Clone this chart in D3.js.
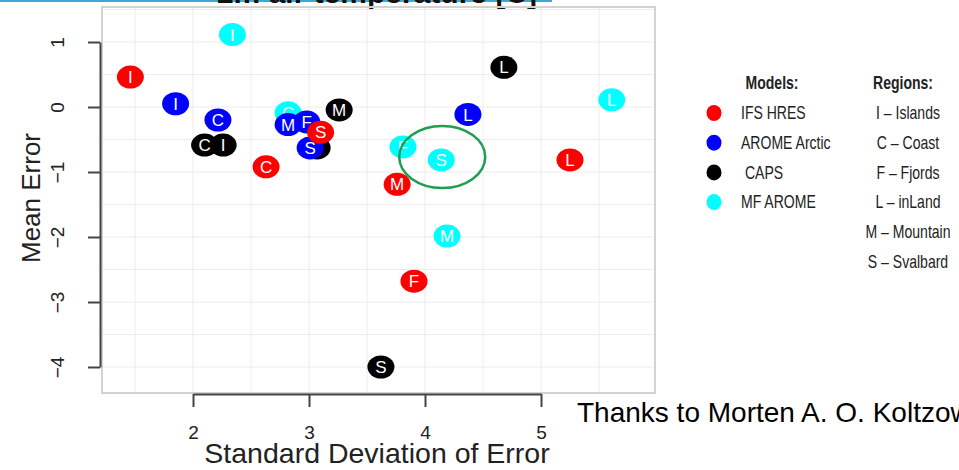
<!DOCTYPE html>
<html>
<head>
<meta charset="utf-8">
<script src="https://cdn.jsdelivr.net/npm/d3@7"></script>
<style>
  html, body { margin: 0; padding: 0; background: #fff; }
  svg { display: block; font-family: "Liberation Sans", Arial, Helvetica, sans-serif; }
</style>
</head>
<body>
<script>
// values, region order: I C F L M S
var models = ["IFS HRES", "AROME Arctic", "CAPS", "MF AROME"];
var modelColors = ["#ff0000", "#0000ff", "#000000", "#00ffff"];
var legendLabels = ["IFS HRES", "AROME Arctic", " CAPS", "MF AROME"];
var regionCodes = ["I", "C", "F", "L", "M", "S"];
var regionNames = ["Islands", "Coast", "Fjords", "inLand", "Mountain", "Svalbard"];

var sdIfs = [1.46, 2.63, 3.905, 5.25, 3.76, 3.10];
var meIfs = [0.46, -0.92, -2.68, -0.815, -1.19, -0.39];
var sdArome = [1.85, 2.215, 2.98, 4.37, 2.82, 3.01];
var meArome = [0.05, -0.20, -0.23, -0.115, -0.27, -0.63];
var sdCaps = [2.26, 2.10, 3.07, 4.68, 3.26, 3.62];
var meCaps = [-0.585, -0.585, -0.63, 0.61, -0.046, -4.0];
var sdMf = [2.34, 2.82, 3.81, 5.61, 4.19, 4.14];
var meMf = [1.115, -0.09, -0.615, 0.11, -1.985, -0.815];

var xTicks = [2, 3, 4, 5];
var yTicks = [-4, -3, -2, -1, 0, 1];
var gridStep = 0.5;

var title = "2m air temperature [C]";
var xTitle = "Standard Deviation of Error";
var yTitle = "Mean Error";
var credit = "Thanks to Morten A. O. Koltzow";
var highlight = { model: 3, region: 5 };  // circled point

function buildPoints() {
    var sds = [sdIfs, sdArome, sdCaps, sdMf];
    var mes = [meIfs, meArome, meCaps, meMf];
    var pts = [];
    [3, 2, 1, 0].forEach(function(m) {  // drawing order, red ends on top
        regionCodes.forEach(function(code, r) {
            pts.push({ model: m, region: r, code: code, sd: sds[m][r], me: mes[m][r] }); }); });
    return pts; }

function show() {
    var W = 959, H = 470;
    var panel = { left: 102, right: 655, top: 7, bottom: 393 };

    var svg = d3.select("body").append("svg")
        .attr("width", W)
        .attr("height", H);

    var x = d3.scaleLinear().domain([2, 5]).range([193, 541]);
    var y = d3.scaleLinear().domain([-4, 1]).range([367, 42]);

    // slide header strip + clipped title
    svg.append("rect")
        .attr("x", 0).attr("y", 0)
        .attr("width", 552).attr("height", 2)
        .attr("fill", "#3aa8d8");
    svg.append("text")
        .attr("x", 377).attr("y", 3)
        .attr("text-anchor", "middle")
        .attr("font-size", 30)
        .attr("font-weight", "bold")
        .attr("fill", "#111")
        .text(title);

    // grid
    var grid = svg.append("g").attr("class", "grid");
    var gx = d3.range(Math.ceil(x.invert(panel.left) / gridStep) * gridStep, x.invert(panel.right), gridStep);
    var gy = d3.range(Math.ceil(y.invert(panel.bottom) / gridStep) * gridStep, y.invert(panel.top), gridStep);
    grid.selectAll("line.v").data(gx).enter().append("line")
        .attr("class", "v")
        .attr("x1", function(d) { return x(d); })
        .attr("x2", function(d) { return x(d); })
        .attr("y1", panel.top).attr("y2", panel.bottom)
        .attr("stroke", "#ececec").attr("stroke-width", 1);
    grid.selectAll("line.h").data(gy).enter().append("line")
        .attr("class", "h")
        .attr("y1", function(d) { return y(d); })
        .attr("y2", function(d) { return y(d); })
        .attr("x1", panel.left).attr("x2", panel.right)
        .attr("stroke", "#ececec").attr("stroke-width", 1);

    svg.append("rect")
        .attr("x", panel.left).attr("y", panel.top)
        .attr("width", panel.right - panel.left)
        .attr("height", panel.bottom - panel.top)
        .attr("fill", "none")
        .attr("stroke", "#d2d2d2")
        .attr("stroke-width", 2);

    // axes
    var fmt = d3.format("d");
    var xAxis = svg.append("g")
        .attr("transform", "translate(0," + (panel.bottom + 1) + ")")
        .call(d3.axisBottom(x).tickValues(xTicks).tickSize(13).tickSizeOuter(0).tickPadding(19).tickFormat(fmt));
    var yAxis = svg.append("g")
        .attr("transform", "translate(100,0)")
        .call(d3.axisLeft(y).tickValues(yTicks).tickSize(12).tickSizeOuter(0).tickFormat(fmt));
    [xAxis, yAxis].forEach(function(a) {
        a.select(".domain").attr("stroke", "#444").attr("stroke-width", 2);
        a.selectAll(".tick line").attr("stroke", "#444").attr("stroke-width", 2);
        a.selectAll("text")
            .attr("font-size", 19)
            .attr("font-family", "Liberation Sans, Arial, sans-serif")
            .attr("fill", "#222"); });
    yAxis.selectAll(".tick text")
        .attr("x", null).attr("dy", null)
        .attr("text-anchor", "middle")
        .attr("transform", "translate(-36,0) rotate(-90)");

    svg.append("text")
        .attr("x", 377).attr("y", 463)
        .attr("text-anchor", "middle")
        .attr("font-size", 28.5)
        .attr("fill", "#222")
        .text(xTitle);
    svg.append("text")
        .attr("transform", "translate(40,198) rotate(-90)")
        .attr("text-anchor", "middle")
        .attr("font-size", 26)
        .attr("fill", "#222")
        .text(yTitle);

    // markers
    var pts = buildPoints();
    var mk = svg.append("g").selectAll("g.pt").data(pts).enter().append("g")
        .attr("class", "pt")
        .attr("transform", function(d) { return "translate(" + x(d.sd) + "," + y(d.me) + ")"; });
    mk.append("ellipse")
        .attr("rx", 13.5).attr("ry", 11.5)
        .attr("fill", function(d) { return modelColors[d.model]; });
    mk.append("text")
        .attr("text-anchor", "middle")
        .attr("dy", "0.36em")
        .attr("font-size", 17)
        .attr("fill", "#fff")
        .text(function(d) { return d.code; });

    var hp = pts.filter(function(d) { return d.model === highlight.model && d.region === highlight.region; })[0];
    svg.append("ellipse")
        .attr("cx", x(hp.sd) + 1).attr("cy", y(hp.me) - 3)
        .attr("rx", 43).attr("ry", 31)
        .attr("fill", "none")
        .attr("stroke", "#1e9e4e")
        .attr("stroke-width", 2.5);

    // legend
    var leg = svg.append("g").attr("fill", "#222");
    var rowH = 29.7;
    function narrow(sel, px, py) {
        return sel.append("text")
            .attr("transform", "translate(" + px + "," + py + ") scale(0.78,1)")
            .attr("dy", "0.35em")
            .attr("font-size", 18)
            .style("white-space", "pre"); }

    narrow(leg, 772, 83).attr("text-anchor", "middle").attr("font-weight", "bold").text("Models:");
    models.forEach(function(m, i) {
        var cy = 113 + i * rowH;
        leg.append("ellipse")
            .attr("cx", 714).attr("cy", cy)
            .attr("rx", 7.5).attr("ry", 8)
            .attr("fill", modelColors[i]);
        narrow(leg, 741, cy).attr("text-anchor", "start").text(legendLabels[i]); });

    narrow(leg, 903, 83).attr("text-anchor", "middle").attr("font-weight", "bold").text("Regions:");
    regionCodes.forEach(function(c, i) {
        narrow(leg, 908, 113 + i * rowH).attr("text-anchor", "middle").text(c + " \u2013 " + regionNames[i]); });

    svg.append("text")
        .attr("x", 577).attr("y", 422)
        .attr("font-size", 28)
        .attr("fill", "#000")
        .text(credit);
}

show();
</script>
</body>
</html>
